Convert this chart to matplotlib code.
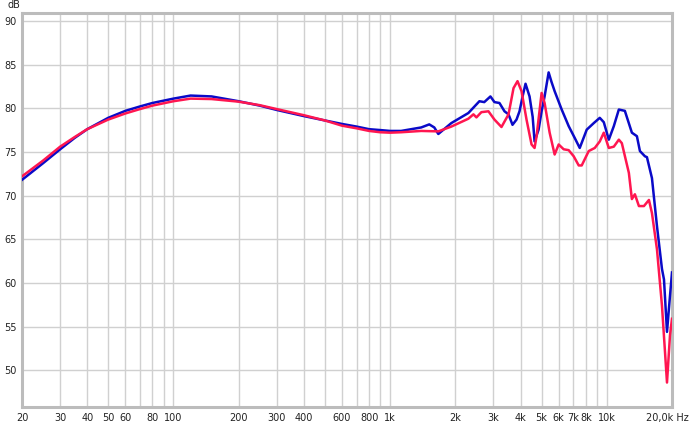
import matplotlib
matplotlib.use("Agg")
import matplotlib.pyplot as plt
import matplotlib.transforms as mtransforms

# ---- data ----
blue_freq = [20, 25, 30, 35, 40, 50, 60, 70, 80, 100, 120, 150, 200, 250, 300, 400, 500,
             600, 700, 800, 900, 1000, 1124, 1392, 1516, 1599, 1669, 1917, 2297, 2583,
             2720, 2904, 3031, 3196, 3372, 3520, 3672, 3832, 3956, 4100, 4217, 4401, 4550,
             4642, 4845, 5003, 5164, 5391, 5560, 5746, 6193, 6671, 7113, 7502, 8083, 8710,
             9283, 9688, 10218, 10777, 11367, 12118, 13058, 13774, 14222, 14998, 15322,
             16162, 17048, 17978, 18366, 18964, 19576, 20000]
blue_db = [71.8, 73.7, 75.3, 76.6, 77.6, 78.9, 79.7, 80.2, 80.6, 81.1, 81.45, 81.35, 80.8,
           80.3, 79.8, 79.1, 78.6, 78.2, 77.9, 77.6, 77.5, 77.4, 77.4, 77.8, 78.15, 77.8,
           77.05, 78.3, 79.45, 80.8, 80.7, 81.35, 80.7, 80.6, 79.65, 79.3, 78.1, 78.7,
           79.65, 81.5, 82.8, 81.35, 79.0, 76.2, 77.55, 79.65, 81.35, 84.1, 83.0, 81.95,
           79.85, 77.95, 76.6, 75.45, 77.55, 78.3, 78.9, 78.4, 76.4, 77.95, 79.85, 79.7,
           77.2, 76.8, 75.1, 74.5, 74.4, 72.0, 66.5, 61.6, 60.4, 54.4, 58.5, 61.2]

red_freq = [20, 25, 30, 35, 40, 50, 60, 70, 80, 100, 120, 150, 200, 250, 300, 400, 500,
            600, 700, 800, 900, 1000, 1124, 1392, 1669, 1917, 2297, 2424, 2503, 2638,
            2843, 3031, 3266, 3520, 3712, 3873, 4042, 4262, 4496, 4642, 4743, 5003, 5164,
            5449, 5746, 5998, 6325, 6671, 7036, 7422, 7662, 8256, 8802, 9283, 9688, 10218,
            10777, 11367, 11736, 12646, 13058, 13482, 14070, 14842, 15652, 16162, 17048,
            17978, 18964, 19576, 20000]
red_db = [72.2, 74.0, 75.6, 76.7, 77.6, 78.7, 79.4, 79.9, 80.3, 80.8, 81.1, 81.05, 80.75,
          80.35, 79.9, 79.2, 78.6, 78.0, 77.7, 77.4, 77.25, 77.2, 77.25, 77.4, 77.35, 77.9,
          78.8, 79.3, 78.95, 79.55, 79.65, 78.7, 77.85, 79.3, 82.3, 83.1, 81.95, 78.7,
          75.85, 75.45, 76.8, 81.75, 80.6, 77.2, 74.7, 75.85, 75.3, 75.2, 74.5, 73.45,
          73.45, 75.1, 75.45, 76.2, 77.2, 75.45, 75.6, 76.4, 76.0, 72.6, 69.6, 70.15,
          68.8, 68.8, 69.5, 68.0, 63.85, 57.4, 48.6, 54.0, 55.9]

x_ticks = [20, 30, 40, 50, 60, 80, 100, 200, 300, 400, 600, 800, 1000, 2000, 3000,
           4000, 5000, 6000, 7000, 8000, 10000, 20000]
x_tick_labels = ["20", "30", "40", "50", "60", "80", "100", "200", "300", "400", "600",
                 "800", "1k", "2k", "3k", "4k", "5k", "6k", "7k", "8k", "10k", "20,0k Hz"]
grid_x = [30, 40, 50, 60, 70, 80, 90, 100, 200, 300, 400, 500, 600, 700, 800, 900,
          1000, 2000, 3000, 4000, 5000, 6000, 7000, 8000, 9000, 10000]
y_ticks = [50, 55, 60, 65, 70, 75, 80, 85, 90]

# ---- figure ----
fig = plt.figure(figsize=(6.9, 4.25), dpi=100)
ax = fig.add_axes([22 / 690, 18 / 425, 650 / 690, 394 / 425])
ax.set_xscale("log")
ax.set_xlim(20, 20000)
ax.set_ylim(45.8, 90.9)

for g in grid_x:
    ax.axvline(g, color="#d0d0d0", lw=1.0, zorder=1)
for g in y_ticks:
    ax.axhline(g, color="#d0d0d0", lw=1.0, zorder=1)

ax.plot(blue_freq, blue_db, color="#0a0ac8", lw=1.8, zorder=3, solid_joinstyle="round")
ax.plot(red_freq, red_db, color="#ff1650", lw=1.8, zorder=4, solid_joinstyle="round")

ax.minorticks_off()
ax.set_xticks(x_ticks)
ax.set_xticklabels(x_tick_labels)
ax.set_yticks(y_ticks)
ax.set_yticklabels([str(v) for v in y_ticks])
ax.tick_params(axis="both", length=0, labelsize=7, colors="#222222")
ax.tick_params(axis="x", pad=4)
ax.tick_params(axis="y", pad=4)

lbls = ax.get_xticklabels()
off = mtransforms.ScaledTranslation(-5 / 100, 0, fig.dpi_scale_trans)
lbls[-1].set_transform(lbls[-1].get_transform() + off)

for s in ax.spines.values():
    s.set_color("#bcbcbc")
    s.set_linewidth(2.2)

fig.text(14 / 690, 1 - 5 / 425, "dB", ha="center", va="center", fontsize=7, color="#222222")

fig.savefig("out.png", dpi=100, facecolor="white")
